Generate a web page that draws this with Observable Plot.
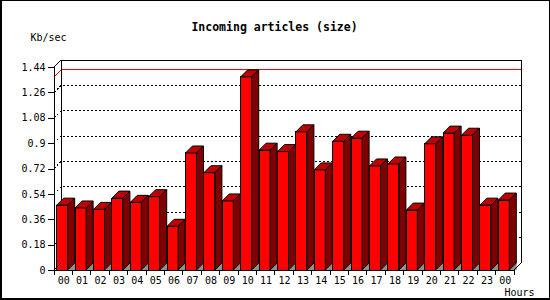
<!DOCTYPE html>
<html>
<head>
<meta charset="utf-8">
<script src="https://cdn.jsdelivr.net/npm/d3@7"></script>
<script src="https://cdn.jsdelivr.net/npm/@observablehq/plot@0.6"></script>
<style>
  html, body { margin: 0; padding: 0; background: white; }
  #chart svg { display: block; }
</style>
</head>
<body>
<div id="chart"></div>
<script>
// ---- data ----
const hours = ["00","01","02","03","04","05","06","07","08","09","10","11","12",
               "13","14","15","16","17","18","19","20","21","22","23","00"];
const values = [0.46, 0.44, 0.43, 0.51, 0.48, 0.52, 0.31, 0.83, 0.69, 0.49, 1.37, 0.85, 0.84,
                0.98, 0.71, 0.913, 0.935, 0.738, 0.752, 0.425, 0.895, 0.971, 0.956, 0.46, 0.496];
const yTicks = [0, 0.18, 0.36, 0.54, 0.72, 0.9, 1.08, 1.26, 1.44];
const yLabels = ["0", "0.18", "0.36", "0.54", "0.72", "0.9", "1.08", "1.26", "1.44"];
const title = "Incoming articles (size)";
const yTitle = "Kb/sec";
const xTitle = "Hours";

// ---- styling constants ----
const D = 7;            // 3D depth in px
const INSET_L = 2.7, INSET_R = 4.7;
const FRONT = "#ff0000", TOP = "#c00000", SIDE = "#800000", FLOOR = "#909090";
const MONO = "DejaVu Sans Mono, monospace";

const data = hours.map((h, i) => ({i, h, v: values[i]}));
const maxV = d3.max(values);

function poly(g, pts, fill, stroke) {
  g.append("polygon")
    .attr("points", pts.map(p => p.join(",")).join(" "))
    .attr("fill", fill)
    .attr("stroke", stroke || "none")
    .attr("stroke-width", 1)
    .attr("stroke-linejoin", "miter");
}
function pline(g, pts, stroke, dash) {
  const p = g.append("polyline")
    .attr("points", pts.map(p => p.join(",")).join(" "))
    .attr("fill", "none").attr("stroke", stroke).attr("stroke-width", 1)
    .attr("shape-rendering", "crispEdges");
  if (dash) p.attr("stroke-dasharray", dash);
}

// floor, grid, max line and back frame (behind bars)
function backLayer(index, s, v, dim) {
  const g = d3.create("svg:g");
  const bw = s.x.bandwidth();
  const x0 = dim.marginLeft, x1 = dim.width - dim.marginRight;
  const y0 = s.y(0), yTop = s.y(yTicks[yTicks.length - 1]);
  // floor pieces
  data.forEach(d => {
    const xr = s.x(d.i) + bw - INSET_R;
    const nx = s.x(d.i) + bw + INSET_L;
    poly(g, [[xr, y0], [xr + D, y0 - D], [nx, y0 - D], [nx, y0]], FLOOR);
  });
  // dotted grid on back plane
  yTicks.slice(1, -1).forEach(t => {
    const y = s.y(t);
    pline(g, [[x0, y], [x0 + D, y - D], [x1 + D, y - D]], "black", "2,2");
  });
  // max line
  const ym = s.y(maxV);
  pline(g, [[x0, ym], [x0 + D, ym - D], [x1 + D, ym - D]], "#ff0000");
  // back frame
  pline(g, [[x0, yTop], [x0 + D, yTop - D], [x1 + D, yTop - D], [x1 + D, y0 - D]], "black");
  pline(g, [[x0 + D, yTop - D], [x0 + D, y0 - D]], "black");
  return g.node();
}

// top and side faces + front axes
function frontLayer(index, s, v, dim) {
  const g = d3.create("svg:g");
  const bw = s.x.bandwidth();
  const x0 = dim.marginLeft, x1 = dim.width - dim.marginRight;
  const y0 = s.y(0), yTop = s.y(yTicks[yTicks.length - 1]);
  data.forEach(d => {
    const xl = s.x(d.i) + INSET_L;
    const xr = s.x(d.i) + bw - INSET_R;
    const yt = s.y(d.v);
    poly(g, [[xl, yt], [xl + D, yt - D], [xr + D, yt - D], [xr, yt]], TOP, "black");
    poly(g, [[xr, yt], [xr + D, yt - D], [xr + D, y0 - D], [xr, y0]], SIDE, "black");
  });
  // front axes
  pline(g, [[x0, yTop], [x0, y0 + 5]], "black");
  pline(g, [[x0, y0], [x1, y0], [x1 + D, y0 - D]], "black");
  pline(g, [[x0, y0], [x0 + D, y0 - D]], "black");
  // x ticks at band boundaries
  for (let k = 0; k <= hours.length; k++) {
    const x = x0 + k * bw;
    pline(g, [[x, y0], [x, y0 + 5]], "black");
  }
  // outer border
  g.append("rect").attr("x", 0.5).attr("y", 0.5)
    .attr("width", dim.width - 1).attr("height", dim.height - 1)
    .attr("fill", "none").attr("stroke", "black").attr("shape-rendering", "crispEdges");
  pline(g, [[1.5, 0], [1.5, dim.height]], "black");
  pline(g, [[0, dim.height - 1.5], [dim.width, dim.height - 1.5]], "black");
  return g.node();
}

const chart = Plot.plot({
  width: 550,
  height: 300,
  marginLeft: 54,
  marginRight: 36,
  marginTop: 67,
  marginBottom: 30,
  style: {fontFamily: MONO, fontSize: "10px", background: "white", color: "black"},
  x: {type: "band", domain: d3.range(hours.length), padding: 0, round: false, axis: null},
  y: {domain: [0, 1.44], axis: null},
  marks: [
    backLayer,
    Plot.barY(data, {x: "i", y: "v", fill: FRONT, stroke: "black", strokeWidth: 1,
                     insetLeft: INSET_L, insetRight: INSET_R, shapeRendering: "crispEdges"}),
    frontLayer,
    Plot.axisY({ticks: yTicks, tickSize: 6, tickPadding: 3, tickFormat: (t) => yLabels[yTicks.indexOf(t)],
                fontSize: 10, fontFamily: MONO, label: null, shapeRendering: "crispEdges"}),
    Plot.axisX({tickSize: 0, tickPadding: 6, tickFormat: (i) => hours[i],
                fontSize: 10, fontFamily: MONO, label: null}),
    Plot.text([title], {frameAnchor: "top", dx: -10, dy: -40, lineAnchor: "middle",
                        fontWeight: "bold", fontSize: 11.5, fontFamily: MONO}),
    Plot.text([yTitle], {frameAnchor: "top-left", textAnchor: "start", dx: -24, dy: -29.5,
                         lineAnchor: "middle", fontSize: 10, fontFamily: MONO}),
    Plot.text([xTitle], {frameAnchor: "bottom-right", textAnchor: "start", dx: -10, dy: 22.5,
                         lineAnchor: "middle", fontSize: 10, fontFamily: MONO})
  ]
});
document.getElementById("chart").appendChild(chart);
</script>
</body>
</html>
